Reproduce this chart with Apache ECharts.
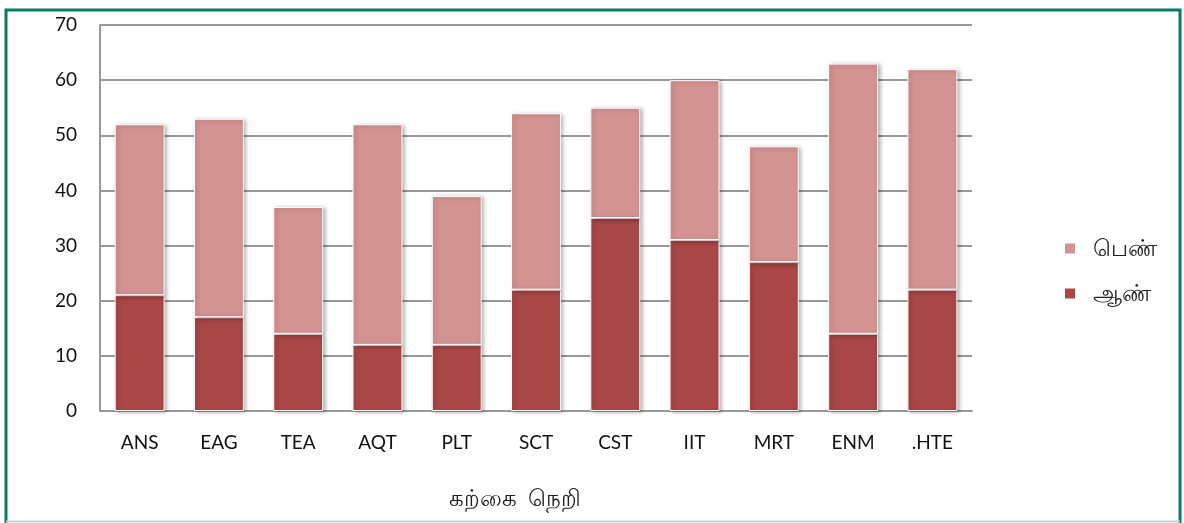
<!DOCTYPE html>
<html>
	<head>
		<meta charset="utf-8" />
		<title></title>
		<style type="text/css">
			body{ margin: 0; background: #fff; }
			#chart{ width: 1184px; height: 523px; }
		</style>
		<script src="https://cdn.jsdelivr.net/npm/echarts@6/dist/echarts.min.js" type="text/javascript" charset="utf-8"></script>
	</head>
	<body>
		<div id="chart"></div>
		<script type="text/javascript">
			var courses = ['ANS','EAG','TEA','AQT','PLT','SCT','CST','IIT','MRT','ENM','.HTE'];
			var male = [21,17,14,12,12,22,35,31,27,14,22];
			var female = [31,36,23,40,27,32,20,29,21,49,40];
			var yTicks = {min: 0, max: 70, interval: 10};

			var myChart = echarts.init(document.getElementById('chart'));
			var barStyle = function(c){
				return {
					color: c,
					borderColor: '#fff',
					borderWidth: 1,
					shadowColor: 'rgba(0,0,0,0.3)',
					shadowBlur: 4,
					shadowOffsetX: 2,
					shadowOffsetY: 1
				};
			};
			var option = {
				animation: false,
				textStyle: {fontFamily: 'Lato, sans-serif'},
				grid: {left: 100, right: 212, top: 25, bottom: 112, outerBoundsMode: 'none', containLabel: false},
				legend: {
					data: ['பெண்','ஆண்'],
					orient: 'vertical',
					left: 1058,
					top: 232,
					itemWidth: 12,
					itemHeight: 12,
					itemGap: 22,
					icon: 'rect',
					textStyle: {fontSize: 23, color: '#222', padding: [4,0,0,12]}
				},
				xAxis: {
					type: 'category',
					data: courses,
					axisLine: {lineStyle: {color: '#999', width: 2}},
					axisTick: {show: false},
					axisLabel: {fontSize: 19, color: '#111', margin: 22},
					name: 'கற்கை  நெறி',
					nameLocation: 'middle',
					nameGap: 76,
					nameTextStyle: {fontSize: 23, color: '#222', padding: [0,42,0,0]}
				},
				yAxis: {
					type: 'value',
					min: yTicks.min,
					max: yTicks.max,
					interval: yTicks.interval,
					axisLine: {show: true, lineStyle: {color: '#999', width: 2}},
					axisTick: {show: false},
					axisLabel: {fontSize: 19, color: '#111', margin: 23},
					splitLine: {lineStyle: {color: '#999', width: 2}}
				},
				series: [
					{name: 'ஆண்', type: 'bar', stack: 'a', data: male, barWidth: '63%', itemStyle: barStyle('#a94646')},
					{name: 'பெண்', type: 'bar', stack: 'a', data: female, barWidth: '63%', itemStyle: barStyle('#d39392')}
				],
				graphic: [{
					type: 'rect',
					shape: {x: 6, y: 10, width: 1174, height: 530},
					style: {fill: 'none', stroke: '#0b7a62', lineWidth: 3},
					z: 100
				}, {
					type: 'line',
					shape: {x1: 6, y1: 521.5, x2: 1180, y2: 521.5},
					style: {stroke: '#b5ddd5', lineWidth: 2},
					z: 100
				}]
			};
			myChart.setOption(option);
		</script>
	</body>
</html>
